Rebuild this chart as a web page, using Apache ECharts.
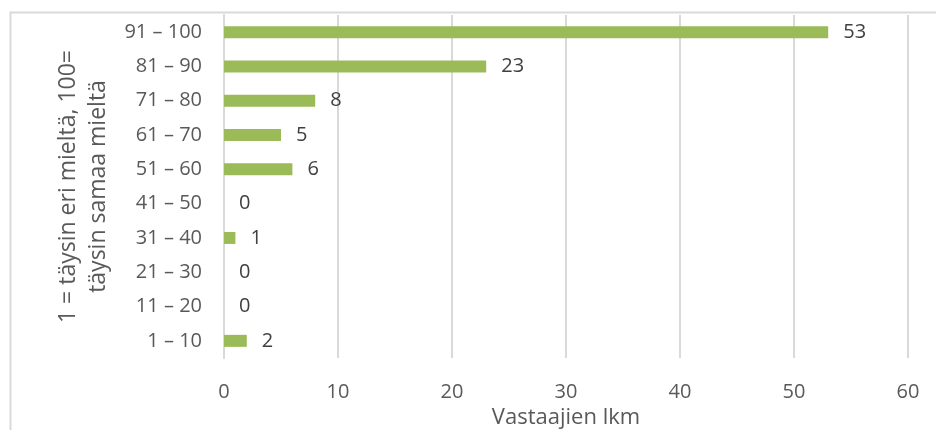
<!DOCTYPE html>
<html>
<head>
<meta charset="utf-8">
<script src="https://cdn.jsdelivr.net/npm/echarts@6/dist/echarts.min.js"></script>
<style>
  html, body { margin: 0; padding: 0; background: #fff; }
  #chart { width: 936px; height: 430px; }
</style>
</head>
<body>
<div id="chart"></div>
<script>
// luokat alhaalta ylös
var categories = ['1 – 10', '11 – 20', '21 – 30', '31 – 40', '41 – 50', '51 – 60', '61 – 70', '71 – 80', '81 – 90', '91 – 100'];
var counts = [2, 0, 0, 1, 0, 6, 5, 8, 23, 53];
var xTicks = { min: 0, max: 60, interval: 10 };

function initBar() {
  var chart = echarts.init(document.getElementById('chart'));
  var font = '"Open Sans", "Noto Sans", sans-serif';
  var option = {
    animation: false,
    textStyle: { fontFamily: font },
    graphic: [{
      type: 'rect',
      shape: { x: 10.5, y: 12.5, width: 1000, height: 1000 },
      style: { fill: 'none', stroke: '#d9d9d9', lineWidth: 2 },
      silent: true
    }],
    grid: { left: 224, right: 28, top: 15, bottom: 72, outerBoundsMode: 'none', containLabel: false },
    xAxis: {
      type: 'value',
      min: xTicks.min,
      max: xTicks.max,
      interval: xTicks.interval,
      name: 'Vastaajien lkm',
      nameLocation: 'middle',
      nameGap: 46,
      nameTextStyle: { fontSize: 22, color: '#595959', fontFamily: font },
      axisLine: { show: false },
      axisTick: { show: false },
      axisLabel: { fontSize: 20, color: '#595959', margin: 24 },
      splitLine: { lineStyle: { color: '#d9d9d9', width: 2 } }
    },
    yAxis: {
      type: 'category',
      data: categories,
      name: '1 = täysin eri mieltä, 100=\ntäysin samaa mieltä',
      nameLocation: 'middle',
      nameRotate: 90,
      nameGap: 107,
      nameTextStyle: { fontSize: 23, color: '#595959', lineHeight: 30, fontFamily: font },
      axisLine: { show: true, lineStyle: { color: '#d9d9d9', width: 2 } },
      axisTick: { show: false },
      axisLabel: { fontSize: 20, color: '#595959', margin: 22 }
    },
    series: [{
      type: 'bar',
      data: counts,
      barWidth: 12,
      itemStyle: { color: '#9bbb59' },
      label: {
        show: true,
        position: 'right',
        distance: 15,
        fontSize: 20,
        color: '#404040',
        fontFamily: font
      }
    }]
  };
  chart.setOption(option);
}

initBar();
</script>
</body>
</html>
